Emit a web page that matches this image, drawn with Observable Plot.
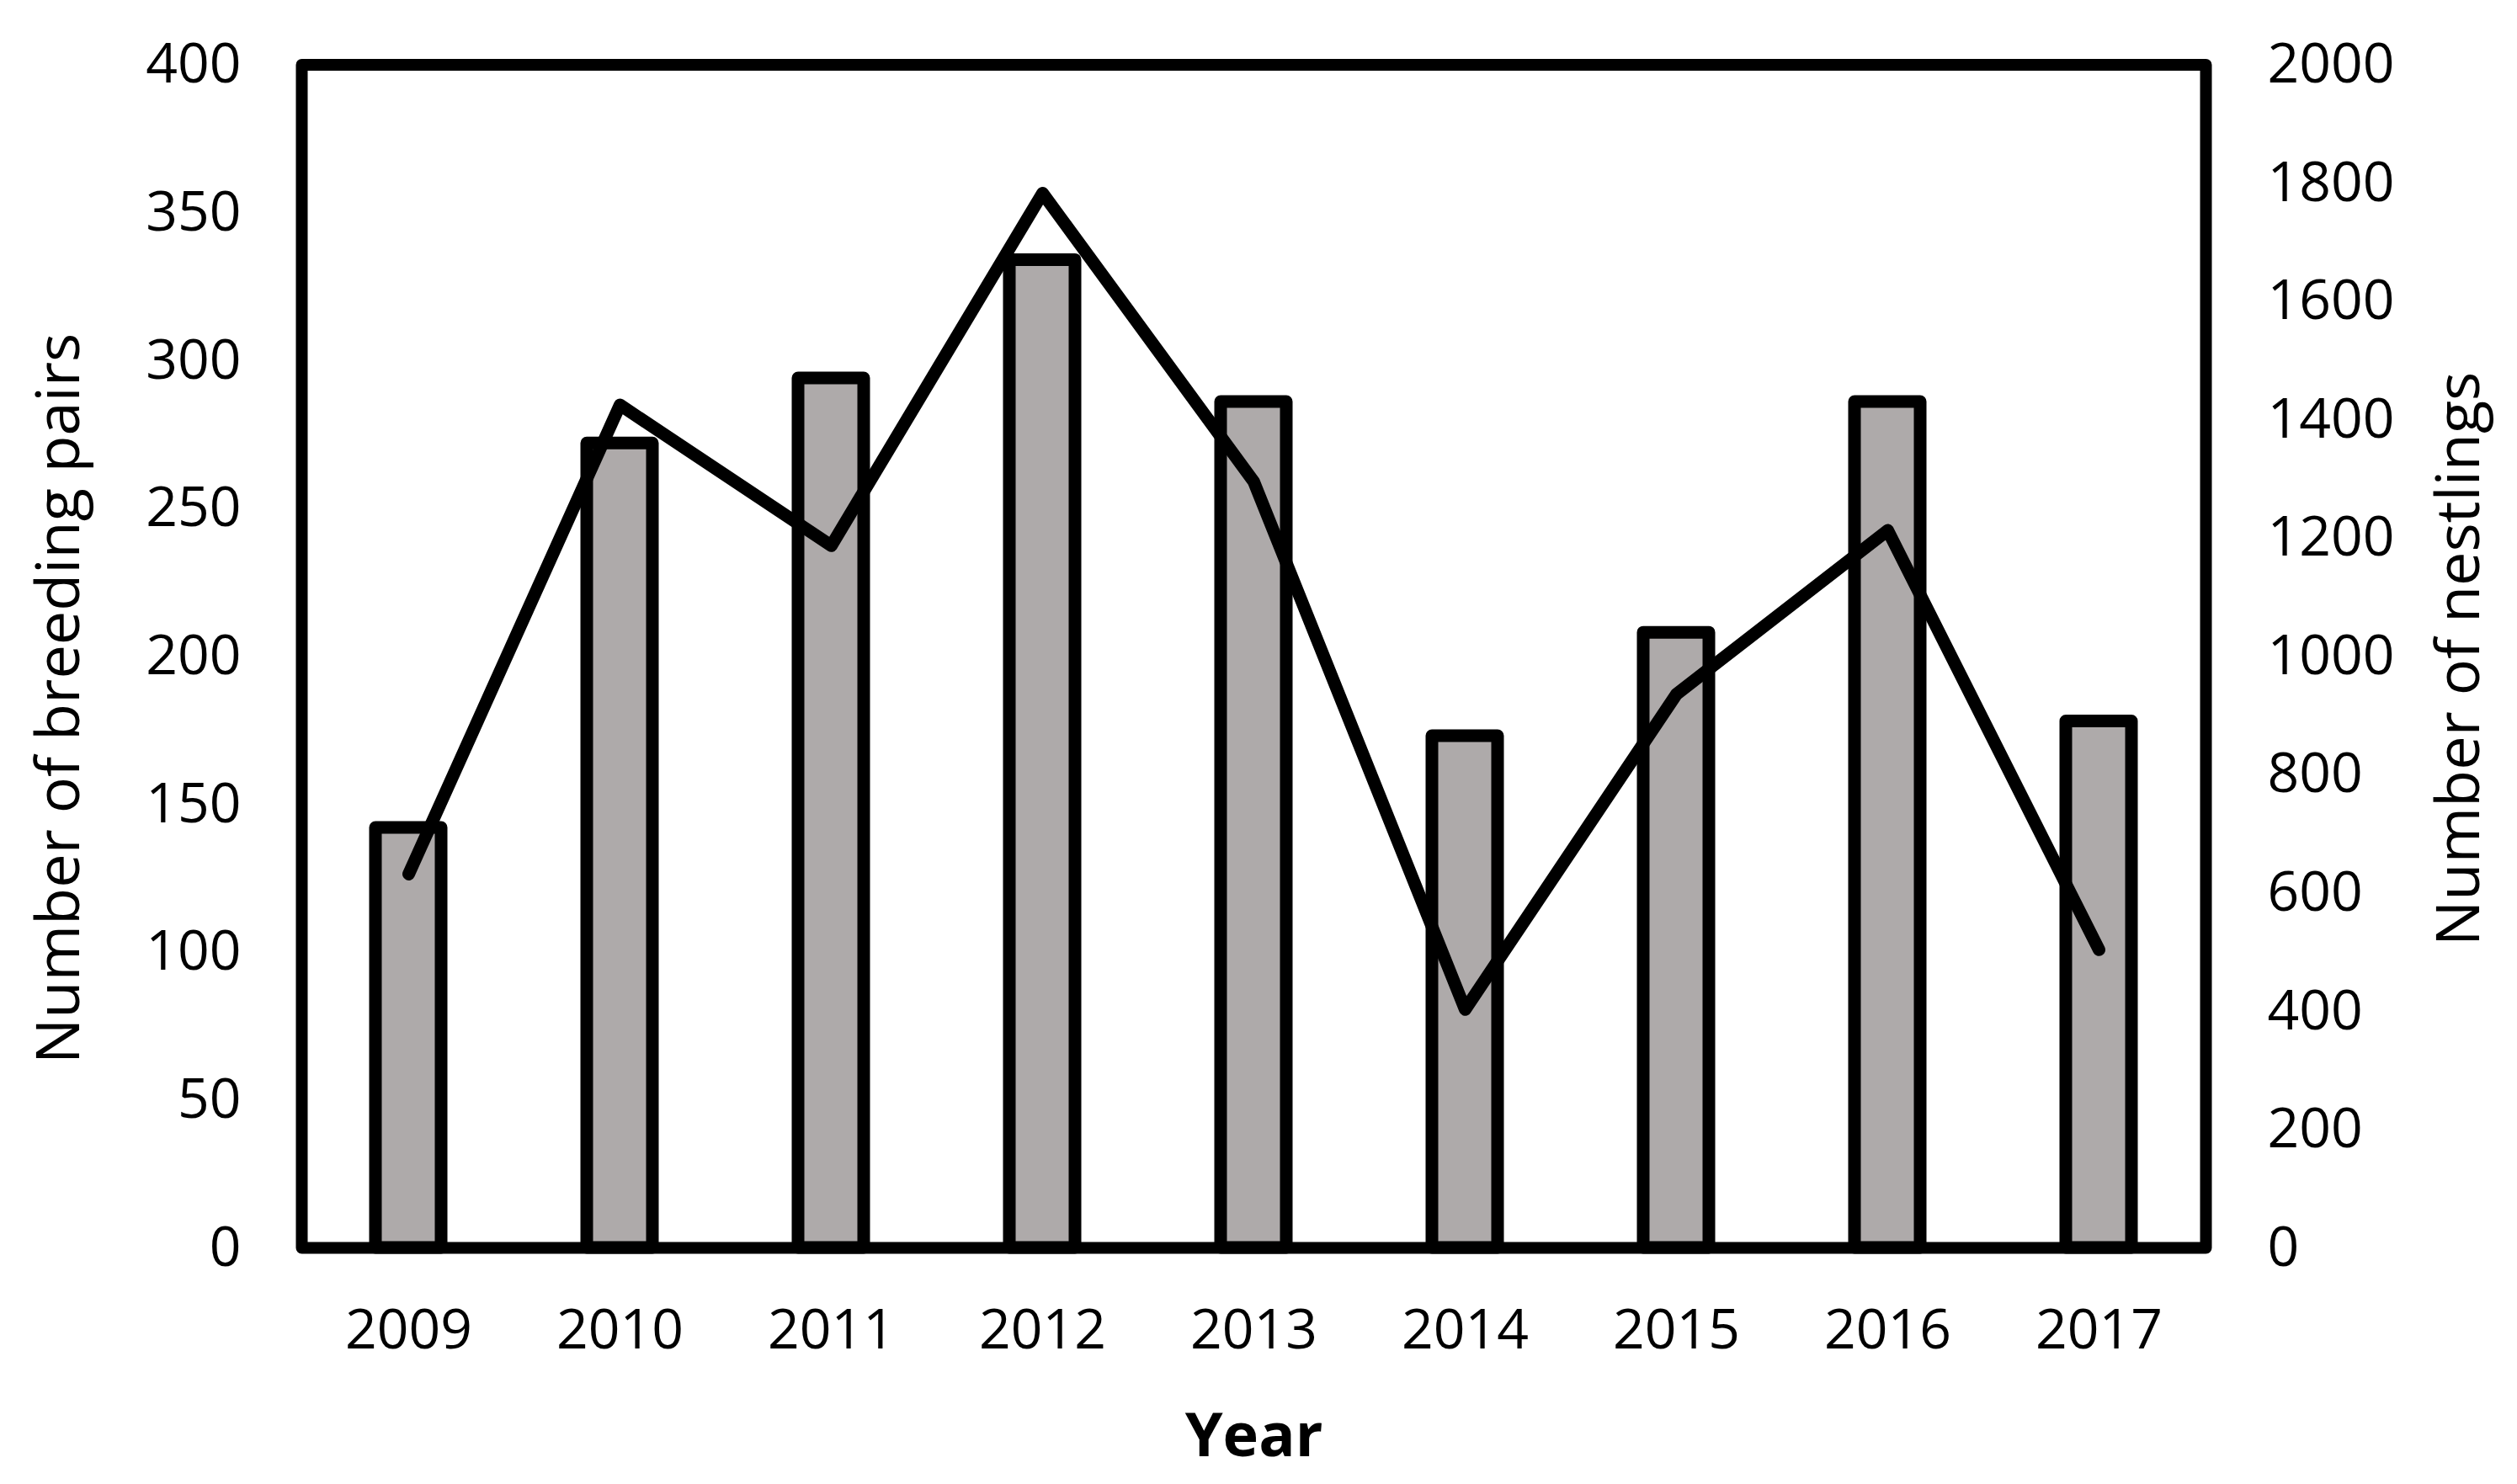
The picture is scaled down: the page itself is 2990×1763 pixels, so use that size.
<!DOCTYPE html>
<html>
<head>
<meta charset="utf-8">
<script src="https://cdn.jsdelivr.net/npm/d3@7"></script>
<script src="https://cdn.jsdelivr.net/npm/@observablehq/plot@0.6"></script>
<style>
  html, body { margin: 0; padding: 0; background: #fff; }
</style>
</head>
<body>
<div id="chart"></div>
<script>
const years = ["2009","2010","2011","2012","2013","2014","2015","2016","2017"];
const breedingPairs = [142, 272, 294, 334, 286, 173, 208, 286, 178];
const nestlings = [632, 1425, 1187, 1783, 1295, 403, 936, 1213, 504];
const leftTicks = [0, 50, 100, 150, 200, 250, 300, 350, 400];
const rightTicks = [0, 200, 400, 600, 800, 1000, 1200, 1400, 1600, 1800, 2000];
const leftMax = 400;
const rightMax = 2000;
const ratio = rightMax / leftMax;

const rows = years.map((year, i) => ({year, pairs: breedingPairs[i], nestlings: nestlings[i]}));

const FONT = "'Open Sans', sans-serif";

const chart = Plot.plot({
  width: 2990,
  height: 1763,
  marginLeft: 358,
  marginRight: 370,
  marginTop: 76.5,
  marginBottom: 281,
  style: {fontFamily: FONT, fontSize: "66px", background: "#fff", color: "#000"},
  x: {type: "band", domain: years, paddingInner: 0.6876, paddingOuter: 0.3438},
  y: {domain: [0, leftMax]},
  marks: [
    Plot.barY(rows, {x: "year", y: "pairs", fill: "#AEAAAA", stroke: "#000", strokeWidth: 15, strokeLinejoin: "round"}),
    Plot.line(rows, {x: "year", y: d => d.nestlings / ratio, stroke: "#000", strokeWidth: 15, strokeLinejoin: "round", strokeLinecap: "round"}),
    Plot.axisX({tickSize: 0, tickPadding: 73, fontSize: 66, label: null}),
    Plot.axisY({anchor: "left", ticks: leftTicks, tickSize: 0, tickPadding: 72, fontSize: 66, label: null}),
    Plot.axisY({anchor: "right", ticks: rightTicks.map(d => d / ratio), tickFormat: d => String(Math.round(d * ratio)), tickSize: 0, tickPadding: 73, fontSize: 66, label: null}),
    Plot.text(["Number of breeding pairs"], {frameAnchor: "left", text: d => d, rotate: -90, dx: -288, dy: 50, fontSize: 72, textAnchor: "middle", lineAnchor: "middle"}),
    Plot.text(["Number of nestlings"], {frameAnchor: "right", text: d => d, rotate: -90, dx: 301, dy: 3, fontSize: 72, textAnchor: "middle", lineAnchor: "middle"}),
    Plot.text(["Year"], {frameAnchor: "bottom", text: d => d, dy: 224, fontSize: 72, fontWeight: "bold", textAnchor: "middle", lineAnchor: "middle"}),
    Plot.frame({stroke: "#000", strokeWidth: 14, strokeLinejoin: "round"})
  ]
});
document.getElementById("chart").appendChild(chart);
</script>
</body>
</html>
